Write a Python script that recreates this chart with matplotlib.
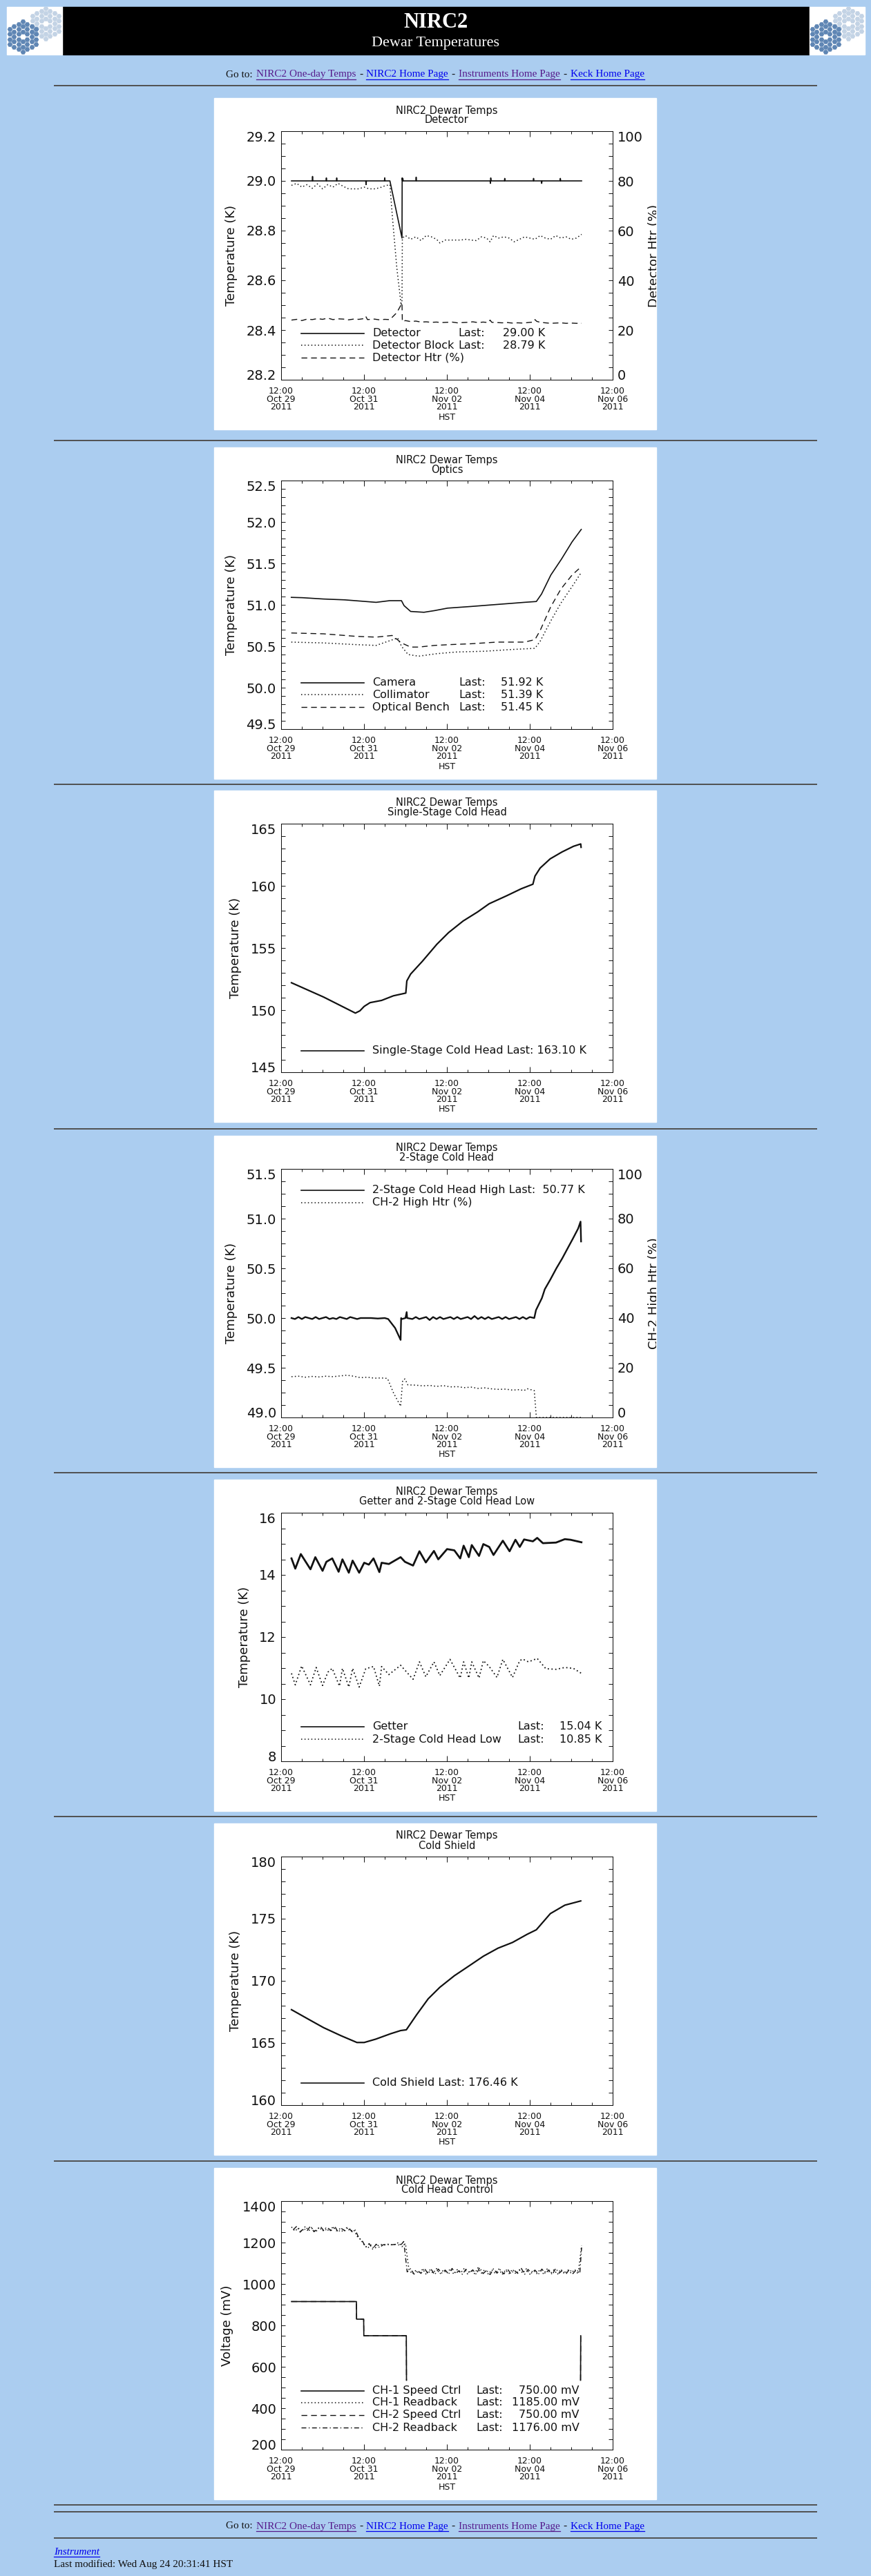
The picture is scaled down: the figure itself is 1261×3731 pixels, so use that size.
import numpy as np
import matplotlib
matplotlib.use('Agg')
import matplotlib.pyplot as plt
import matplotlib.dates as mdates
from matplotlib.patches import Rectangle
from matplotlib.ticker import MultipleLocator, FormatStrFormatter

W, H = 1261, 3731
BG = '#abcdf0'
INK = '#111111'
LINK = '#0000ee'
VISITED = '#551a8b'
HEX_DARK = '#5f86b4'
HEX_LIGHT = '#c3d3e5'

T0 = np.datetime64('2011-10-29T12:00')

# ---- data (hours after 12:00 Oct 29 2011 HST) ----
# Detector
det_h = [6, 18, 18.2, 18.4, 26, 26.2, 26.4, 32, 32.2, 32.4, 49, 49.2, 49.4, 59.8, 60, 60.2, 63, 70, 70.1,
         70.3, 70.5, 70.7, 78, 78.2, 78.4, 121, 121.2, 121.4, 121.6, 129.3, 129.5, 129.7, 146, 146.2, 146.4,
         150.7, 150.9, 151.1, 161.5, 161.7, 161.9, 174]
det_v = [29.0, 29.0, 29.018, 29.0, 29.0, 29.012, 29.0, 29.0, 29.012, 29.0, 29.0, 28.985, 29.0, 29.0, 29.012,
         29.0, 29.0, 28.77, 29.012, 29.0, 29.01, 29.0, 29.0, 29.015, 29.0, 29.0, 28.99, 29.012, 29.0, 29.0,
         29.01, 29.0, 29.0, 29.01, 29.0, 29.0, 28.99, 29.0, 29.0, 29.01, 29.0, 29.0]
blk_h = [6, 9, 12, 15, 18, 21, 24, 27, 30, 33, 36, 39, 42, 45, 48, 51, 54, 57, 60, 63, 64.5, 67, 69.5, 70,
         70.2, 72, 75, 78, 81, 84, 87, 90, 92, 95, 98, 101, 104, 107, 110, 113, 116, 119, 121, 123, 126, 129,
         132, 135, 138, 141, 144, 147, 150, 153, 156, 159, 162, 165, 168, 171, 174]
blk_v = [28.982, 28.99, 28.975, 28.985, 28.97, 28.988, 28.968, 28.985, 28.975, 28.99, 28.978, 28.968, 28.968,
         28.968, 28.975, 28.968, 28.968, 28.972, 28.98, 28.985, 28.85, 28.65, 28.5, 28.52, 28.77, 28.78,
         28.765, 28.775, 28.76, 28.78, 28.775, 28.765, 28.75, 28.762, 28.762, 28.762, 28.762, 28.765, 28.762,
         28.76, 28.775, 28.77, 28.755, 28.78, 28.77, 28.775, 28.77, 28.755, 28.765, 28.775, 28.77, 28.765,
         28.78, 28.77, 28.765, 28.78, 28.77, 28.775, 28.765, 28.77, 28.785]
dht_h = [6, 9, 12, 15, 18, 21, 24, 27, 30, 33, 36, 39, 42, 45, 48, 49, 50, 54, 57, 60, 63, 67, 70, 70.2, 72,
         75, 78, 81, 84, 87, 90, 93, 96, 99, 102, 105, 108, 111, 114, 117, 120, 121, 122, 125, 128, 131, 134,
         137, 140, 143, 146, 147, 148, 150, 153, 156, 159, 162, 165, 168, 171, 174]
dht_v = [24.0, 24.3, 23.8, 24.4, 24.2, 24.6, 24.3, 24.8, 24.2, 24.5, 24.4, 24.1, 24.4, 24.3, 24.6, 25.5, 24.2,
         24.4, 24.1, 24.3, 24.2, 27.0, 30.8, 23.4, 23.8, 23.4, 23.6, 23.2, 23.3, 23.1, 23.2, 23.0, 23.1, 23.2,
         22.9, 23.0, 23.1, 23.3, 23.0, 23.2, 23.0, 24.0, 23.1, 23.0, 22.9, 23.0, 22.8, 22.9, 22.8, 23.0, 23.2,
         24.2, 23.5, 23.1, 22.9, 22.7, 22.8, 22.9, 22.7, 22.8, 22.7, 22.7]

# Optics
cam_h = [5.9, 12.3, 24.6, 36.8, 49, 55, 62.8, 69.7, 71.2, 75, 82.7, 88.8, 96.4, 110, 122.3, 134.8, 140.9,
         147.8, 150.8, 156.2, 162.3, 168.5, 173.8]
cam_v = [51.09, 51.086, 51.07, 51.06, 51.04, 51.03, 51.05, 51.05, 50.99, 50.92, 50.91, 50.93, 50.96, 50.98,
         51.0, 51.02, 51.03, 51.04, 51.13, 51.36, 51.55, 51.76, 51.91]
col_h = [5.9, 24.6, 43, 55, 67.5, 69.7, 73.5, 79.7, 90, 101, 118, 133, 147, 150, 156, 162, 168.5, 173.8]
col_v = [50.55, 50.54, 50.52, 50.51, 50.6, 50.5, 50.4, 50.38, 50.41, 50.43, 50.44, 50.46, 50.475, 50.56,
         50.8, 51.02, 51.22, 51.39]
ob_h = [5.9, 24.6, 43, 55, 64.3, 69.7, 75, 79.7, 88.8, 98, 110, 125, 141, 147, 150, 156, 162, 168.5, 173.8]
ob_v = [50.66, 50.65, 50.62, 50.61, 50.63, 50.54, 50.49, 50.49, 50.51, 50.52, 50.53, 50.55, 50.55, 50.58,
        50.69, 50.97, 51.19, 51.36, 51.46]

# Single-stage cold head
ss_h = [6, 24.6, 43, 45.6, 48.1, 51.5, 58.2, 65, 72.2, 72.8, 75, 81.8, 90.2, 97, 105.4, 113.8, 120.5, 130.6,
        139, 145.8, 147, 150, 155.8, 162.6, 169.3, 173.5, 173.7]
ss_v = [152.2, 151.05, 149.76, 149.94, 150.3, 150.6, 150.78, 151.15, 151.37, 152.35, 152.9, 153.93, 155.3,
        156.24, 157.17, 157.9, 158.56, 159.2, 159.76, 160.13, 160.78, 161.43, 162.17, 162.72, 163.18, 163.37,
        163.1]

# 2-stage cold head high + heater
hi_h = [6, 8, 10, 12, 14, 16, 18, 20, 22, 24, 26, 28, 30, 32, 34, 36, 38, 40, 42, 44, 46, 48, 52, 56, 60, 62,
        66, 69.2, 69.5, 70, 72, 72.7, 73, 76, 78, 80, 82, 84, 86, 88, 90, 92, 94, 96, 98, 100, 102, 104, 106,
        108, 110, 112, 114, 116, 118, 120, 122, 124, 126, 128, 130, 132, 134, 136, 138, 140, 142, 144, 146.6,
        147.6, 149.3, 151, 152.7, 156, 159.4, 162.8, 166.2, 169, 172, 173.4, 173.7]
hi_v = [50.0, 49.99, 50.01, 49.99, 50.01, 50.0, 49.99, 50.01, 49.99, 50.0, 50.01, 49.99, 50.0, 49.99, 50.01,
        50.0, 49.99, 50.01, 50.0, 49.99, 50.0, 50.0, 50.0, 49.995, 50.0, 49.99, 49.9, 49.78, 50.0, 49.99, 50.0,
        50.06, 50.0, 49.99, 50.01, 49.99, 50.0, 50.01, 49.98, 50.01, 49.99, 50.01, 49.99, 50.0, 50.01, 49.99,
        50.01, 49.99, 50.0, 50.01, 49.99, 50.02, 49.99, 50.01, 49.99, 50.01, 49.99, 50.0, 50.01, 49.99, 50.01,
        49.99, 50.0, 50.01, 49.99, 50.01, 49.99, 50.01, 50.0, 50.08, 50.14, 50.2, 50.29, 50.39, 50.5, 50.6,
        50.71, 50.8, 50.9, 50.97, 50.77]
ch2htr_h = [6, 10, 14, 18, 22, 26, 30, 34, 38, 42, 46, 50, 54, 58, 61.6, 65, 69.2, 70.4, 71.7, 73.4, 78, 82,
            86, 90, 94, 98, 102, 106, 110, 114, 118, 122, 126, 130, 134, 138, 140.7, 142.4, 144.5, 146.6,
            147.8, 174]
ch2htr_v = [16.4, 16.6, 16.2, 16.5, 16.3, 16.6, 16.4, 16.7, 17.0, 16.6, 16.0, 16.2, 15.8, 15.9, 15.7, 10.0,
            4.5, 15.0, 15.5, 13.1, 13.0, 12.7, 12.9, 12.5, 12.8, 12.3, 12.4, 12.0, 12.2, 11.7, 11.9, 11.5, 11.3,
            11.4, 11.0, 11.2, 10.8, 11.6, 11.2, 10.8, 0.0, 0.0]

# Getter and 2-stage low
get_h = [6.0, 8.2, 11.4, 17.0, 19.8, 24.0, 26.2, 29.6, 33.3, 35.5, 39.2, 41.4, 45.2, 48.1, 50.8, 53.5, 56.9,
         58.2, 62.4, 69.2, 71.7, 76.4, 80.1, 83.8, 88.5, 91.0, 96.1, 100.3, 103.7, 105.7, 108.7, 110.4, 114.6,
         117.1, 120.5, 123.0, 128.4, 132.3, 135.7, 138.2, 140.7, 145.8, 148.3, 151.6, 159.2, 164.3, 167.6,
         173.9]
get_v = [14.53, 14.2, 14.67, 14.18, 14.57, 14.13, 14.42, 14.53, 14.1, 14.5, 14.07, 14.46, 14.07, 14.39, 14.33,
         14.53, 14.09, 14.39, 14.35, 14.57, 14.42, 14.3, 14.76, 14.4, 14.77, 14.5, 14.83, 14.79, 14.53, 14.94,
         14.57, 14.96, 14.61, 14.99, 14.9, 14.64, 15.1, 14.76, 15.13, 14.9, 15.14, 15.08, 15.19, 15.02, 15.04,
         15.15, 15.13, 15.05]
lo_h = [6.0, 8.2, 11.9, 17.0, 20.3, 24.0, 27.1, 29.6, 33.8, 35.5, 39.2, 41.4, 45.2, 49.0, 53.5, 56.9, 58.2,
        62.4, 69.2, 76.4, 80.1, 83.8, 88.5, 91.9, 97.8, 103.7, 105.7, 108.7, 110.4, 114.6, 117.1, 120.5, 125.0,
        128.4, 134.0, 138.2, 139.9, 143.2, 148.3, 153.3, 159.2, 164.3, 169.3, 173.9]
lo_v = [10.83, 10.46, 11.07, 10.46, 11.02, 10.44, 10.87, 10.99, 10.42, 10.99, 10.39, 10.99, 10.39, 10.98,
        11.05, 10.42, 11.05, 10.79, 11.09, 10.64, 11.2, 10.72, 11.2, 10.76, 11.28, 10.68, 11.2, 10.68, 11.2,
        10.68, 11.24, 11.05, 10.70, 11.28, 10.70, 11.24, 11.29, 11.2, 11.31, 10.98, 10.96, 11.02, 10.99, 10.83]

# Cold shield
cs_h = [6.0, 16.1, 24.5, 34.6, 43.9, 48.1, 54.8, 63.3, 69.2, 72.5, 78.4, 85.2, 91.9, 100.3, 108.7, 117.1,
        125.6, 134.0, 142.4, 147.8, 155.9, 164.3, 173.5]
cs_v = [167.68, 166.89, 166.24, 165.59, 165.04, 165.04, 165.31, 165.74, 166.0, 166.06, 167.26, 168.56, 169.48,
        170.41, 171.19, 171.98, 172.63, 173.09, 173.74, 174.11, 175.41, 176.09, 176.43]

# Cold head control
spd_h = [6, 43.6, 43.7, 47.8, 47.9, 72.5, 72.6, 72.7, 173.4, 173.5]
spd1_v = [915, 915, 830, 830, 750, 750, 535, np.nan, 535, 750]
spd2_v = [915, 915, 830, 830, 750, 750, 535, np.nan, 535, 750]
rb1_h = list(range(6, 175, 2))
rb1_v = [1275, 1255, 1270, 1252, 1278, 1258, 1268, 1250, 1274, 1256, 1270, 1253, 1276, 1257, 1266, 1251, 1272,
         1255, 1262,
         1230, 1215,
         1190, 1172, 1188, 1170, 1185,
         1190, 1188, 1192, 1189, 1191,
         1200, 1180, 1195,
         1070, 1048, 1066, 1050, 1072, 1046, 1068, 1052, 1074, 1049, 1067, 1051, 1073, 1047, 1069, 1053, 1075,
         1048, 1066, 1050, 1078, 1052, 1070, 1047, 1068, 1051, 1072, 1046, 1067, 1050, 1071, 1048, 1069, 1052,
         1073, 1047, 1066, 1050, 1070, 1048, 1072, 1051, 1068, 1046, 1071, 1049, 1067, 1052, 1070, 1048,
         1185]
rb2_h = list(range(7, 174, 2)) + [174]
rb2_v = [1262, 1278, 1250, 1268, 1256, 1280, 1252, 1265, 1275, 1254, 1270, 1258, 1279, 1250, 1267, 1257, 1273,
         1252, 1260,
         1222, 1208,
         1178, 1195, 1168, 1192, 1175,
         1189, 1191, 1188, 1190, 1192,
         1185, 1205,
         1058, 1074, 1047, 1065, 1051, 1076, 1049, 1069, 1045, 1072, 1053, 1067, 1048, 1075, 1050, 1064, 1046,
         1071, 1054, 1068, 1047, 1079, 1050, 1066, 1045, 1073, 1052, 1069, 1048, 1074, 1049, 1066, 1051, 1077,
         1046, 1070, 1053, 1067, 1047, 1072, 1050, 1068, 1045, 1075, 1052, 1066, 1048, 1071, 1050, 1069, 1055,
         1176]

PANEL_TOPS = [142, 648, 1145, 1645, 2143, 2641, 3140]
HR_LINES = [124, 638, 1136, 1635, 2133, 2631, 3130, 3628, 3638, 3676]

SOLID = dict(linestyle='-', linewidth=1.2)
DOTTED = dict(linestyle=(0, (1, 2.2)), linewidth=1.1)
DASHED = dict(linestyle=(0, (6, 4)), linewidth=1.0)
DASHDOT = dict(linestyle=(0, (5, 2.5, 1, 2.5)), linewidth=1.0)


def hrs(h):
    return T0 + (np.asarray(h, dtype=float) * 3600).astype('timedelta64[s]')


fig = plt.figure(figsize=(W / 100, H / 100), dpi=100)
fig.patch.set_facecolor(BG)
bg = fig.add_axes([0, 0, 1, 1])
bg.set_xlim(0, W)
bg.set_ylim(H, 0)
bg.axis('off')


def mirror_cells(cx, cy, s=4.2):
    # three rings of hexagonal segments, centre left open
    xs, ys = [], []
    for q in range(-3, 4):
        for r in range(-3, 4):
            ring = max(abs(q), abs(r), abs(q + r))
            if 1 <= ring <= 3:
                xs.append(cx + s * 1.5 * q)
                ys.append(cy + s * np.sqrt(3) * (r + q / 2))
    return xs, ys


def draw_logo(x0):
    box = Rectangle((x0, 10), 80, 69, color='white', zorder=2)
    bg.add_patch(box)
    for dx, dy, col in [(56, 24, HEX_LIGHT), (23, 43, HEX_DARK)]:
        xs, ys = mirror_cells(x0 + dx, 10 + dy)
        sc = bg.scatter(xs, ys, s=30, marker='H', c=col, linewidths=0, zorder=3)
        sc.set_clip_path(box)


# header banner
bg.add_patch(Rectangle((91, 10), 1080, 69, color='black', zorder=2))
draw_logo(10)
draw_logo(1172)
bg.text(631, 33, 'NIRC2', color='white', family='Liberation Serif', weight='bold', fontsize=22,
        ha='center', va='center', zorder=4)
bg.text(631, 63, 'Dewar Temperatures', color='white', family='Liberation Serif', fontsize=16,
        ha='center', va='center', zorder=4)

for y in HR_LINES:
    bg.plot([78, 1183], [y, y], color='#505050', lw=1.4, solid_capstyle='butt')


def nav_line(y):
    parts = [('Go to:', INK), ('NIRC2 One-day Temps', VISITED), ('-', INK), ('NIRC2 Home Page', LINK),
             ('-', INK), ('Instruments Home Page', VISITED), ('-', INK), ('Keck Home Page', LINK)]
    objs = [bg.text(0, y, s, color=c, fontsize=11, family='Liberation Serif', va='center')
            for s, c in parts]
    r = fig.canvas.get_renderer()
    ws = [o.get_window_extent(r).width for o in objs]
    gap = 5
    x = 630 - (sum(ws) + gap * (len(ws) - 1)) / 2
    for o, w, (s, c) in zip(objs, ws, parts):
        o.set_x(x)
        if c != INK:
            bg.plot([x, x + w], [y + 6.5, y + 6.5], color=c, lw=0.9)
        x += w + gap


nav_line(108)
nav_line(3659)

r = fig.canvas.get_renderer()
t = bg.text(78, 3696, 'Instrument', color=LINK, style='italic', fontsize=11, family='Liberation Serif',
            va='center')
tw = t.get_window_extent(r).width
bg.plot([78, 78 + tw], [3702.5, 3702.5], color=LINK, lw=0.9)
bg.text(78, 3714, 'Last modified: Wed Aug 24 20:31:41 HST', color=INK, fontsize=11,
        family='Liberation Serif', va='center')


def panel(top, sub):
    rect = Rectangle((310, top), 640, 480, color='white', zorder=1)
    bg.add_patch(rect)
    bg.text(647, top + 18, 'NIRC2 Dewar Temps', fontsize=10.5, ha='center', va='center', color=INK)
    bg.text(647, top + 32, sub, fontsize=10.5, ha='center', va='center', color=INK)
    bg.text(647, top + 462, 'HST', fontsize=9, ha='center', va='center', color=INK)
    ax = fig.add_axes([407 / W, 1 - (top + 408) / H, 480 / W, 360 / H])
    return ax, rect


def pin_ends(ax, lo, hi):
    locs = ax.yaxis.get_majorticklocs()
    for loc, tk in zip(locs, ax.yaxis.get_major_ticks(len(locs))):
        for lab in (tk.label1, tk.label2):
            if np.isclose(loc, hi):
                lab.set_va('top')
            elif np.isclose(loc, lo):
                lab.set_va('baseline')


def style_y(ax, ylim, major, minor, fmt, side):
    ax.set_ylim(*ylim)
    ax.yaxis.set_major_locator(MultipleLocator(major))
    ax.yaxis.set_minor_locator(MultipleLocator(minor))
    ax.yaxis.set_major_formatter(FormatStrFormatter(fmt))
    ax.tick_params(axis='y', which='both', direction='in', length=4.3, width=0.7, colors=INK,
                   labelsize=14, pad=5, left=(side != 'right'), labelleft=(side != 'right'),
                   right=(side != 'left'), labelright=(side == 'right'))
    pin_ends(ax, *ylim)


def finish(ax, ylim, major, minor, fmt, ylabel, twin=False):
    ax.set_xlim(T0, T0 + np.timedelta64(192, 'h'))
    ax.xaxis.set_major_locator(MultipleLocator(2, offset=0.5))
    ax.xaxis.set_minor_locator(MultipleLocator(0.5))
    ax.xaxis.set_major_formatter(mdates.DateFormatter('%H:%M\n%b %d\n%Y'))
    ax.tick_params(axis='x', which='major', direction='in', length=5.8, width=0.7, top=True,
                   labelsize=9, pad=7.5, colors=INK)
    ax.tick_params(axis='x', which='minor', direction='in', length=2.9, width=0.7, top=True, colors=INK)
    locs = ax.xaxis.get_majorticklocs()
    for tk in ax.xaxis.get_major_ticks(len(locs)):
        tk.label1.set_linespacing(0.85)
    style_y(ax, ylim, major, minor, fmt, 'left' if twin else 'both')
    for sp in ax.spines.values():
        sp.set_linewidth(0.75)
        sp.set_color(INK)
    ax.set_ylabel(ylabel, fontsize=13, labelpad=9, color=INK)


def legend(ax, rows, ys, last_x=None, val_x=None):
    for (style, name, val), y in zip(rows, ys):
        ax.plot([0.061, 0.249], [y, y], transform=ax.transAxes, color=INK, clip_on=False, **style)
        ax.text(0.275, y, name, transform=ax.transAxes, fontsize=11.5, va='center', color=INK)
        if val:
            ax.text(last_x, y, 'Last:', transform=ax.transAxes, fontsize=11.5, va='center', color=INK)
            ax.text(val_x, y, val, transform=ax.transAxes, fontsize=11.5, va='center', ha='right', color=INK)


def finish_right(ax2, rect, label):
    style_y(ax2, (0, 100), 20, 5, '%d', 'right')
    ax2.set_ylabel(label, fontsize=13, labelpad=5, color=INK)
    ax2.yaxis.label.set_clip_path(rect)
    for sp in ax2.spines.values():
        sp.set_visible(False)


ROWS3 = [0.187, 0.138, 0.088]

# 1 Detector
ax, rect = panel(PANEL_TOPS[0], 'Detector')
ax2 = ax.twinx()
ax.plot(hrs(blk_h), blk_v, color=INK, **DOTTED)
ax.plot(hrs(det_h), det_v, color=INK, **SOLID)
ax2.plot(hrs(dht_h), dht_v, color=INK, **DASHED)
legend(ax, [(SOLID, 'Detector', '29.00 K'), (DOTTED, 'Detector Block', '28.79 K'),
            (DASHED, 'Detector Htr (%)', None)], ROWS3, 0.535, 0.797)
finish(ax, (28.2, 29.2), 0.2, 0.05, '%.1f', 'Temperature (K)', twin=True)
finish_right(ax2, rect, 'Detector Htr (%)')

# 2 Optics
ax, rect = panel(PANEL_TOPS[1], 'Optics')
ax.plot(hrs(col_h), col_v, color=INK, **DOTTED)
ax.plot(hrs(ob_h), ob_v, color=INK, **DASHED)
ax.plot(hrs(cam_h), cam_v, color=INK, **SOLID)
legend(ax, [(SOLID, 'Camera', '51.92 K'), (DOTTED, 'Collimator', '51.39 K'),
            (DASHED, 'Optical Bench', '51.45 K')], ROWS3, 0.537, 0.79)
finish(ax, (49.5, 52.5), 0.5, 0.1, '%.1f', 'Temperature (K)')

# 3 Single-stage cold head
ax, rect = panel(PANEL_TOPS[2], 'Single-Stage Cold Head')
ax.plot(hrs(ss_h), ss_v, color=INK, linestyle='-', linewidth=1.6)
legend(ax, [(SOLID, 'Single-Stage Cold Head Last: 163.10 K', None)], [0.087])
finish(ax, (145, 165), 5, 1, '%d', 'Temperature (K)')

# 4 2-stage cold head
ax, rect = panel(PANEL_TOPS[3], '2-Stage Cold Head')
ax2 = ax.twinx()
ax2.plot(hrs(ch2htr_h), ch2htr_v, color=INK, **DOTTED)
ax.plot(hrs(hi_h), hi_v, color=INK, linestyle='-', linewidth=1.7)
legend(ax, [(SOLID, '2-Stage Cold Head High Last:  50.77 K', None), (DOTTED, 'CH-2 High Htr (%)', None)],
       [0.914, 0.865])
finish(ax, (49.0, 51.5), 0.5, 0.125, '%.1f', 'Temperature (K)', twin=True)
finish_right(ax2, rect, 'CH-2 High Htr (%)')

# 5 Getter and 2-stage low
ax, rect = panel(PANEL_TOPS[4], 'Getter and 2-Stage Cold Head Low')
ax.plot(hrs(lo_h), lo_v, color=INK, linestyle=(0, (1, 2.0)), linewidth=1.3)
ax.plot(hrs(get_h), get_v, color=INK, linestyle='-', linewidth=2.0)
legend(ax, [(SOLID, 'Getter', '15.04 K'), (DOTTED, '2-Stage Cold Head Low', '10.85 K')],
       [0.139, 0.088], 0.713, 0.968)
finish(ax, (8, 16), 2, 0.5, '%d', 'Temperature (K)')

# 6 Cold shield
ax, rect = panel(PANEL_TOPS[5], 'Cold Shield')
ax.plot(hrs(cs_h), cs_v, color=INK, linestyle='-', linewidth=1.6)
legend(ax, [(SOLID, 'Cold Shield Last: 176.46 K', None)], [0.09])
finish(ax, (160, 180), 5, 1, '%d', 'Temperature (K)')

# 7 Cold head control
ax, rect = panel(PANEL_TOPS[6], 'Cold Head Control')
ax.plot(hrs(rb1_h), rb1_v, color=INK, **DOTTED)
ax.plot(hrs(rb2_h), rb2_v, color=INK, **DASHDOT)
ax.plot(hrs(spd_h), spd2_v, color=INK, **DASHED)
ax.plot(hrs(spd_h), spd1_v, color=INK, **SOLID)
legend(ax, [(SOLID, 'CH-1 Speed Ctrl', '750.00 mV'), (DOTTED, 'CH-1 Readback', '1185.00 mV'),
            (DASHED, 'CH-2 Speed Ctrl', '750.00 mV'), (DASHDOT, 'CH-2 Readback', '1176.00 mV')],
       [0.237, 0.189, 0.139, 0.088], 0.588, 0.899)
finish(ax, (200, 1400), 200, 50, '%d', 'Voltage (mV)')

fig.savefig('out.png', dpi=100, facecolor=BG)
